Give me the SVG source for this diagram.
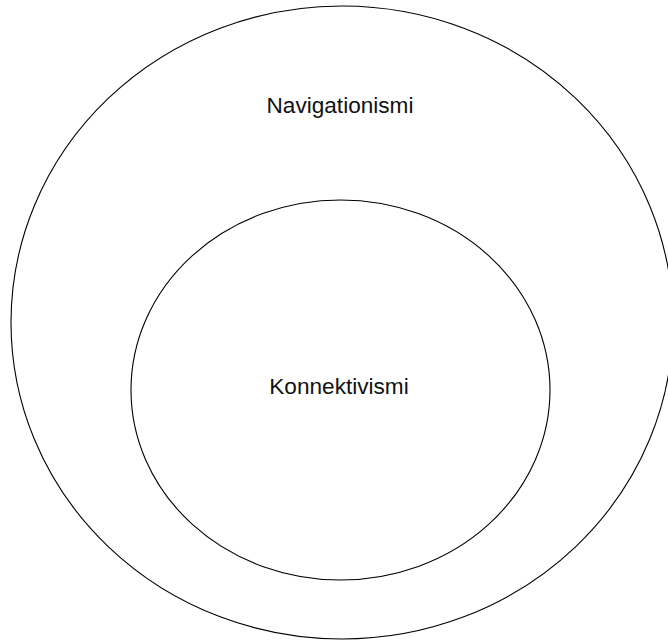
<svg xmlns="http://www.w3.org/2000/svg" width="668" height="641" viewBox="0 0 668 641">
<style>
.c{fill:none;stroke:#000;stroke-width:1.1}
.t{font-family:"Liberation Sans",Arial,sans-serif;font-size:22.6px;fill:#111;text-anchor:middle}
</style>
<rect width="668" height="641" fill="#fff"/>
<g id="navigationismi">
<ellipse class="c" cx="342" cy="322.5" rx="331" ry="316.5"/>
<text class="t" x="340" y="113">Navigationismi</text>
</g>
<g id="konnektivismi">
<ellipse class="c" cx="340.5" cy="390" rx="209.5" ry="190"/>
<text class="t" x="339" y="394">Konnektivismi</text>
</g>
<g id="connectors"></g>
</svg>
